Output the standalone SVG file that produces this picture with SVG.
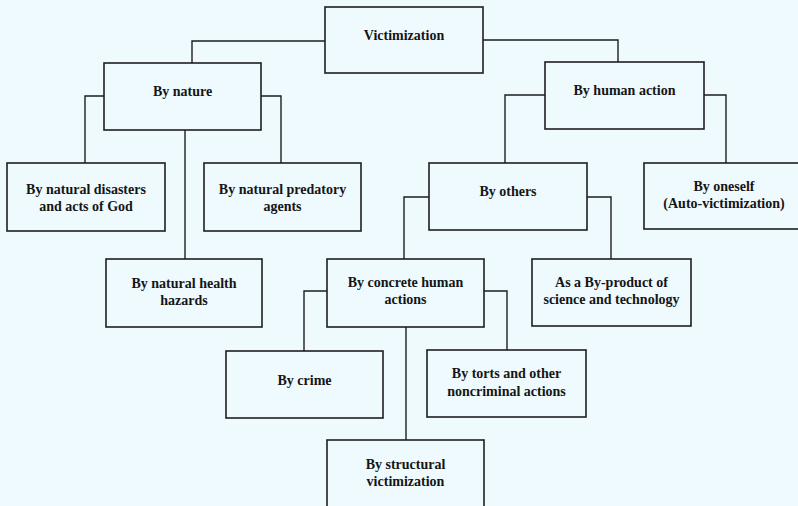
<svg xmlns="http://www.w3.org/2000/svg" width="798" height="506" viewBox="0 0 798 506">
<style>
.bg{fill:#eefafe}
.box{fill:none;stroke:#1e1e1e;stroke-width:1.6}
.con{fill:none;stroke:#1e1e1e;stroke-width:1.4}
text{font-family:"Liberation Serif","Times New Roman",serif;font-weight:bold;font-size:14px;fill:#151515;text-anchor:middle}
</style>
<rect class="bg" x="0" y="0" width="798" height="506"/>
<g id="connectors">
<path class="con" d="M325,41 H192 V63"/>
<path class="con" d="M483,40 H618 V62"/>
<path class="con" d="M104,96 H85 V163"/>
<path class="con" d="M261,96 H281 V163"/>
<path class="con" d="M185,130 V259"/>
<path class="con" d="M545,95 H505 V163"/>
<path class="con" d="M704,95 H726 V163"/>
<path class="con" d="M429,197 H404 V259"/>
<path class="con" d="M587,197 H611 V259"/>
<path class="con" d="M327,291 H304 V351"/>
<path class="con" d="M484,291 H507 V350"/>
<path class="con" d="M406,327 V440"/>
</g>
<g id="victimization"><rect class="box" x="325" y="7" width="158" height="66"/><text x="404" y="40">Victimization</text></g>
<g id="by-nature"><rect class="box" x="104" y="63" width="157" height="67"/><text x="182.5" y="96">By nature</text></g>
<g id="by-human-action"><rect class="box" x="545" y="62" width="159" height="67"/><text x="624.5" y="95">By human action</text></g>
<g id="natural-disasters"><rect class="box" x="7" y="163" width="158" height="68"/><text x="86" y="194">By natural disasters</text><text x="86" y="211">and acts of God</text></g>
<g id="natural-predatory"><rect class="box" x="204" y="163" width="157" height="68"/><text x="282.5" y="194">By natural predatory</text><text x="282.5" y="211">agents</text></g>
<g id="natural-health"><rect class="box" x="106" y="259" width="156" height="68"/><text x="184" y="288">By natural health</text><text x="184" y="305">hazards</text></g>
<g id="by-others"><rect class="box" x="429" y="163" width="158" height="67"/><text x="508" y="196">By others</text></g>
<g id="by-oneself"><rect class="box" x="644" y="163" width="160" height="66"/><text x="724" y="191">By oneself</text><text x="724" y="208">(Auto-victimization)</text></g>
<g id="concrete-human"><rect class="box" x="327" y="259" width="157" height="68"/><text x="405.5" y="287">By concrete human</text><text x="405.5" y="304">actions</text></g>
<g id="by-product"><rect class="box" x="532" y="259" width="159" height="67"/><text x="611.5" y="287">As a By-product of</text><text x="611.5" y="304">science and technology</text></g>
<g id="by-crime"><rect class="box" x="226" y="351" width="157" height="67"/><text x="304.5" y="385">By crime</text></g>
<g id="by-torts"><rect class="box" x="427" y="350" width="159" height="67"/><text x="506.5" y="378">By torts and other</text><text x="506.5" y="396">noncriminal actions</text></g>
<g id="structural"><rect class="box" x="327" y="440" width="157" height="80"/><text x="405.5" y="469">By structural</text><text x="405.5" y="486">victimization</text></g>
</svg>
